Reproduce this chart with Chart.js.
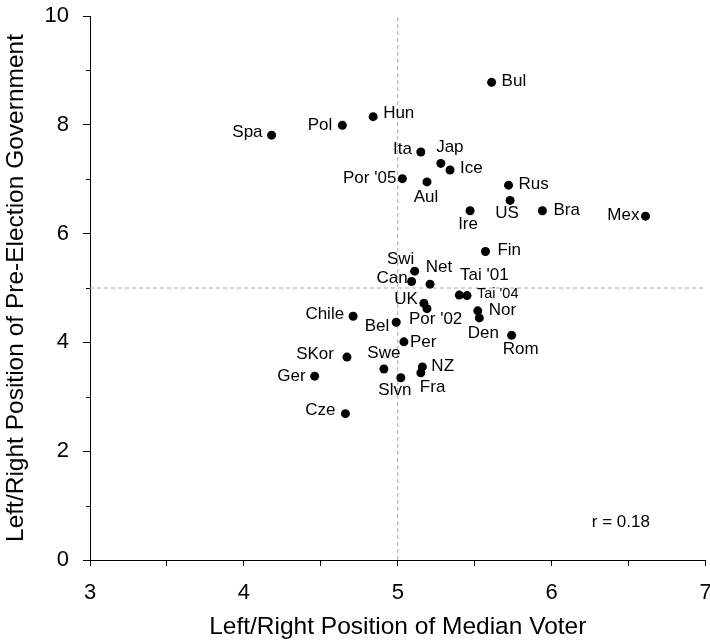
<!DOCTYPE html>
<html>
<head>
<meta charset="utf-8">
<script src="https://cdn.jsdelivr.net/npm/chart.js@4/dist/chart.umd.min.js"></script>
<style>
  body { margin: 0; background: #fff; }
</style>
</head>
<body>
<canvas id="chart" width="710" height="644"></canvas>
<script>
// country codes, median voter position (x), pre-election government position (y)
const countries = ["Spa", "Pol", "Hun", "Ita", "Jap", "Por '05", "Aul", "Bul", "Ice", "Rus",
	"US", "Ire", "Bra", "Mex", "Fin", "Swi", "Can", "Net", "Tai '01", "Tai '04",
	"UK", "Por '02", "Nor", "Den", "Chile", "Bel", "Per", "Rom", "SKor", "Swe",
	"Ger", "Slvn", "NZ", "Fra", "Cze"];
const medianVoter = [4.18, 4.64, 4.84, 5.15, 5.28, 5.03, 5.19, 5.61, 5.34, 5.72,
	5.73, 5.47, 5.94, 6.61, 5.57, 5.11, 5.09, 5.21, 5.40, 5.45,
	5.17, 5.19, 5.52, 5.53, 4.71, 4.99, 5.04, 5.74, 4.67, 4.91,
	4.46, 5.02, 5.16, 5.15, 4.66];
const govPosition = [7.81, 7.99, 8.15, 7.50, 7.29, 7.01, 6.95, 8.78, 7.17, 6.89,
	6.61, 6.42, 6.42, 6.32, 5.67, 5.31, 5.12, 5.07, 4.87, 4.86,
	4.72, 4.62, 4.58, 4.45, 4.48, 4.37, 4.01, 4.13, 3.73, 3.51,
	3.38, 3.35, 3.55, 3.44, 2.69];
const midpoint = 5; // dashed reference lines
const xTicks = [3, 4, 5, 6, 7];
const yTicks = [0, 2, 4, 6, 8, 10];
const rValue = "r = 0.18";

// where each label sits next to its dot: [dx, dy, align]
const labelPlace = [
	[-9, -3, "right"], [-10, 0, "right"], [10, -3, "left"], [-9, -3, "right"], [9, -16, "center"],
	[-6, 0, "right"], [-1, 15, "center"], [10, -1, "left"], [10, -2, "left"], [10, -1, "left"],
	[-3, 13, "center"], [-2, 14, "center"], [11, 0, "left"], [-6, -1, "right"], [12, -1, "left"],
	[-14, -12, "center"], [-4, -3, "right"], [9, -17, "center"], [25, -20, "center"], [10, -2, "left"],
	[-6, -4, "right"], [-18, 11, "left"], [11, -1, "left"], [4, 15, "center"], [-9, -2, "right"],
	[-7, 4, "right"], [6, 0, "left"], [9, 14, "center"], [-13, -3, "right"], [0, -16, "center"],
	[-9, 0, "right"], [-6, 13, "center"], [9, -1, "left"], [-1, 14, "left"], [-10, -3, "right"]
];

const FONT = "'Liberation Sans', Arial, sans-serif";

const points = countries.map((c, i) => ({ x: medianVoter[i], y: govPosition[i] }));

const pointLabels = {
	id: "pointLabels",
	afterDatasetsDraw(chart) {
		const ctx = chart.ctx;
		const meta = chart.getDatasetMeta(2);
		ctx.save();
		ctx.fillStyle = "#000";
		ctx.textBaseline = "middle";
		meta.data.forEach((pt, i) => {
			const [dx, dy, align] = labelPlace[i];
			ctx.font = (countries[i] === "Tai '04" ? "14.5px " : "17px ") + FONT;
			ctx.textAlign = align;
			ctx.fillText(countries[i], pt.x + dx, pt.y + dy);
		});
		// correlation note
		const xs = chart.scales.x, ys = chart.scales.y;
		ctx.font = "17px " + FONT;
		ctx.textAlign = "center";
		ctx.fillText(rValue, xs.getPixelForValue(6.45), ys.getPixelForValue(0.7));
		ctx.restore();
	}
};

const minorTicks = {
	id: "minorTicks",
	afterDraw(chart) {
		const ctx = chart.ctx;
		const ys = chart.scales.y;
		const left = chart.chartArea.left;
		ctx.save();
		ctx.strokeStyle = "#000";
		ctx.lineWidth = 1;
		for (let v = 1; v < 10; v += 2) {
			const py = Math.round(ys.getPixelForValue(v)) + 0.5;
			ctx.beginPath();
			ctx.moveTo(left - 4, py);
			ctx.lineTo(left, py);
			ctx.stroke();
		}
		ctx.restore();
	}
};

const ctx = document.getElementById("chart").getContext("2d");
new Chart(ctx, {
	type: "scatter",
	data: {
		datasets: [
			{
				type: "line",
				data: [{ x: xTicks[0], y: midpoint }, { x: xTicks[xTicks.length - 1], y: midpoint }],
				borderColor: "#aaaaaa",
				borderWidth: 1,
				borderDash: [4, 3],
				pointRadius: 0,
				order: 3,
			},
			{
				type: "line",
				data: [{ x: midpoint, y: yTicks[0] }, { x: midpoint, y: yTicks[yTicks.length - 1] }],
				borderColor: "#aaaaaa",
				borderWidth: 1,
				borderDash: [4, 3],
				pointRadius: 0,
				order: 2,
			},
			{
				label: "Countries",
				data: points,
				backgroundColor: "#000",
				borderWidth: 0,
				pointRadius: 4.5,
				order: 1,
			},
		],
	},
	options: {
		responsive: false,
		animation: false,
		devicePixelRatio: 1,
		layout: { padding: { top: 16, right: 4, left: 0, bottom: 0 } },
		plugins: {
			legend: { display: false },
			tooltip: { enabled: false },
		},
		scales: {
			x: {
				type: "linear",
				min: xTicks[0],
				max: xTicks[xTicks.length - 1],
				afterBuildTicks: (scale) => {
					const t = [];
					for (let v = xTicks[0]; v <= xTicks[xTicks.length - 1]; v += 0.5) t.push({ value: v });
					scale.ticks = t;
				},
				ticks: {
					autoSkip: false,
					maxRotation: 0,
					color: "#000",
					padding: 14,
					font: { family: FONT, size: 22 },
					callback: (value) => (xTicks.includes(value) ? value : ""),
				},
				grid: { drawOnChartArea: false, color: "#000", tickLength: 6 },
				border: { color: "#000", width: 1 },
				title: {
					display: true,
					text: "Left/Right Position of Median Voter",
					color: "#000",
					font: { family: FONT, size: 24.5 },
					padding: { top: 0, bottom: 2 },
				},
				afterFit: (scale) => {
					scale.height = 84;
					scale.paddingLeft = 0;
					scale.paddingRight = 0;
				},
			},
			y: {
				type: "linear",
				min: yTicks[0],
				max: yTicks[yTicks.length - 1],
				afterBuildTicks: (scale) => {
					scale.ticks = yTicks.map((v) => ({ value: v }));
				},
				ticks: {
					color: "#000",
					padding: 14,
					font: { family: FONT, size: 22 },
				},
				grid: { drawOnChartArea: false, color: "#000", tickLength: 7 },
				border: { color: "#000", width: 1 },
				title: {
					display: true,
					text: "Left/Right Position of Pre-Election Government",
					color: "#000",
					font: { family: FONT, size: 24.5 },
					padding: { top: 2, bottom: 0 },
				},
				afterFit: (scale) => {
					scale.width = 90;
					scale.paddingTop = 0;
					scale.paddingBottom = 0;
				},
			},
		},
	},
	plugins: [pointLabels, minorTicks],
});
</script>
</body>
</html>
